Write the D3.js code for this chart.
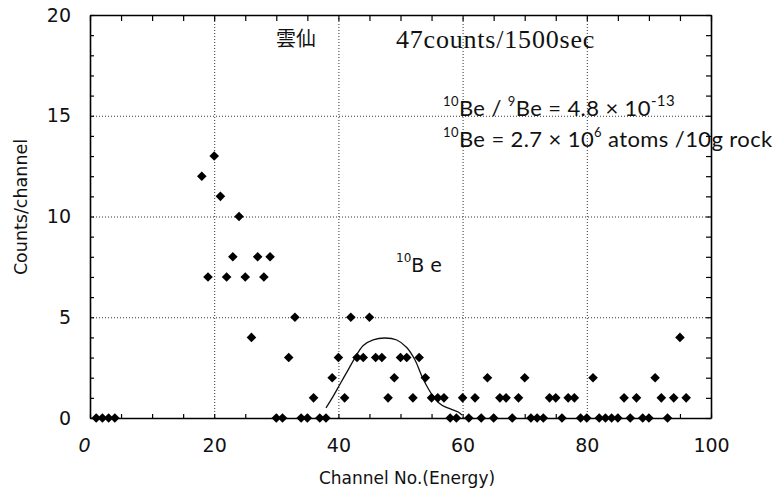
<!DOCTYPE html>
<html>
<head>
<meta charset="utf-8">
<script src="https://cdn.jsdelivr.net/npm/d3@7"></script>
<style>
  body { margin: 0; background: #fff; }
  svg text { fill: #111; }
</style>
</head>
<body>
<svg id="chart" width="783" height="494"></svg>
<script>
// channel / counts
const channel = [1, 2, 3, 4,
    18, 19, 20, 21, 22, 23, 24, 25, 26, 27, 28, 29, 30, 31, 32, 33, 34, 35, 36, 37, 38, 39,
    40, 41, 42, 43, 44, 45, 46, 47, 48, 49, 50, 51, 52, 53, 54, 55, 56, 57, 58, 59,
    60, 61, 62, 63, 64, 65, 66, 67, 68, 69, 70, 71, 72, 73, 74, 75, 76, 77, 78, 79,
    80, 81, 82, 83, 84, 85, 86, 87, 88, 89, 90, 91, 92, 93, 94, 95, 96];
const counts = [0, 0, 0, 0,
    12, 7, 13, 11, 7, 8, 10, 7, 4, 8, 7, 8, 0, 0, 3, 5, 0, 0, 1, 0, 0, 2,
    3, 1, 5, 3, 3, 5, 3, 3, 1, 2, 3, 3, 1, 3, 2, 1, 1, 1, 0, 0,
    1, 0, 1, 0, 2, 0, 1, 1, 0, 1, 2, 0, 0, 0, 1, 1, 0, 1, 1, 0,
    0, 2, 0, 0, 0, 0, 1, 0, 1, 0, 0, 2, 1, 0, 1, 4, 1];

// hand-drawn peak curve
const fitChannel = [38.0, 39.2, 40.3, 41.5, 42.5, 44.0, 45.6, 47.5, 49.4, 51.0, 52.3, 53.4, 54.3, 55.2, 56.2, 57.2, 58.3, 59.3, 59.9];
const fitCounts  = [0.5, 1.1, 1.7, 2.35, 2.9, 3.6, 3.88, 3.97, 3.87, 3.5, 2.9, 2.1, 1.55, 1.1, 0.75, 0.55, 0.42, 0.3, 0.15];

const xTicks = [0, 20, 40, 60, 80, 100];
const yTicks = [0, 5, 10, 15, 20];

const svg = d3.select("#chart");
const margin = {left: 90, right: 72, top: 15, bottom: 76};
const width = 783 - margin.left - margin.right;
const height = 494 - margin.top - margin.bottom;

const x = d3.scaleLinear().domain([0, 100]).range([0, width]);
const y = d3.scaleLinear().domain([0, 20]).range([height, 0]);

const g = svg.append("g").attr("transform", `translate(${margin.left},${margin.top})`);

// dotted grid
g.append("g")
    .attr("transform", `translate(0,${height})`)
    .call(d3.axisBottom(x).tickValues(xTicks.slice(1, -1)).tickSize(-height).tickFormat(""))
    .call(s => s.select(".domain").remove())
    .selectAll("line").attr("stroke", "#333").attr("stroke-dasharray", "1,2");
g.append("g")
    .call(d3.axisLeft(y).tickValues(yTicks.slice(1, -1)).tickSize(-width).tickFormat(""))
    .call(s => s.select(".domain").remove())
    .selectAll("line").attr("stroke", "#333").attr("stroke-dasharray", "1,2");

const tickFont = "'DejaVu Sans', sans-serif";

// frame + inward ticks
const bottom = g.append("g")
    .attr("transform", `translate(0,${height})`)
    .call(d3.axisBottom(x).tickValues(d3.range(0, 101, 5)).tickSize(-4).tickSizeOuter(0)
        .tickPadding(21).tickFormat(d => xTicks.includes(d) ? d : ""));
bottom.selectAll("text").attr("font-family", tickFont).attr("font-size", 19).attr("fill", "#111")
    .filter(d => d === 0).attr("dx", -6).attr("font-style", "italic");

const left = g.append("g")
    .call(d3.axisLeft(y).tickValues(d3.range(0, 21, 1)).tickSize(-4).tickSizeOuter(0)
        .tickPadding(19).tickFormat(d => yTicks.includes(d) ? d : ""));
left.selectAll("text").attr("font-family", tickFont).attr("font-size", 19).attr("fill", "#111");

g.append("g")
    .call(d3.axisTop(x).tickValues(d3.range(0, 101, 5)).tickSize(-6).tickSizeOuter(0).tickFormat(""));
g.append("g")
    .attr("transform", `translate(${width},0)`)
    .call(d3.axisRight(y).tickValues(d3.range(0, 21, 1)).tickSize(-5).tickSizeOuter(0).tickFormat(""));

g.selectAll(".domain").attr("stroke", "#000").attr("stroke-width", 1.6);
g.selectAll(".tick line").filter(function() { return !this.getAttribute("stroke-dasharray"); })
    .attr("stroke", "#000").attr("stroke-width", 1.2);

// fitted curve
const line = d3.line()
    .x((d, i) => x(fitChannel[i]))
    .y((d, i) => y(fitCounts[i]))
    .curve(d3.curveCatmullRom);
g.append("path")
    .datum(fitChannel)
    .attr("d", line)
    .attr("fill", "none")
    .attr("stroke", "#111")
    .attr("stroke-width", 1.3);

// diamonds
const diamond = d3.symbol().type(d3.symbolSquare).size(46);
g.selectAll("path.pt")
    .data(channel)
    .join("path")
    .attr("class", "pt")
    .attr("d", diamond)
    .attr("transform", (d, i) => `translate(${x(d)},${y(counts[i])}) rotate(45)`)
    .attr("fill", "#000");

// axis titles
svg.append("text")
    .attr("x", 407).attr("y", 484)
    .attr("text-anchor", "middle")
    .attr("font-family", tickFont).attr("font-size", 17)
    .text("Channel No.(Energy)");
svg.append("text")
    .attr("transform", "translate(27,207) rotate(-90)")
    .attr("text-anchor", "middle")
    .attr("font-family", tickFont).attr("font-size", 17.5)
    .text("Counts/channel");

// annotations
svg.append("text")
    .attr("x", 276).attr("y", 46)
    .attr("font-family", "'Noto Sans CJK JP', sans-serif").attr("font-size", 20)
    .text("雲仙");
svg.append("text")
    .attr("x", 396).attr("y", 48)
    .attr("font-family", "'Liberation Serif', serif").attr("font-size", 26)
    .attr("letter-spacing", 0.8)
    .text("47counts/1500sec");

const hand = "Lato, 'Open Sans', sans-serif";
const t1 = svg.append("text").attr("x", 443).attr("y", 116)
    .attr("font-family", hand).attr("font-size", 22).attr("letter-spacing", 0.4);
t1.append("tspan").attr("font-size", 13).attr("dy", -10).text("10");
t1.append("tspan").attr("dy", 10).text("Be / ");
t1.append("tspan").attr("font-size", 13).attr("dy", -10).text("9");
t1.append("tspan").attr("dy", 10).text("Be  =  4.8 × 10");
t1.append("tspan").attr("font-size", 15).attr("dy", -10).text("-13");

const t2 = svg.append("text").attr("x", 443).attr("y", 147)
    .attr("font-family", hand).attr("font-size", 22).attr("letter-spacing", 0.4);
t2.append("tspan").attr("font-size", 13).attr("dy", -10).text("10");
t2.append("tspan").attr("dy", 10).text("Be  =  2.7 × 10");
t2.append("tspan").attr("font-size", 13).attr("dy", -10).text("6");
t2.append("tspan").attr("dy", 10).text(" atoms /10g  rock");

const t3 = svg.append("text").attr("x", 396).attr("y", 272)
    .attr("font-family", tickFont).attr("font-size", 19);
t3.append("tspan").attr("font-size", 12).attr("dy", -10).text("10");
t3.append("tspan").attr("dy", 10).text("B e");
</script>
</body>
</html>
